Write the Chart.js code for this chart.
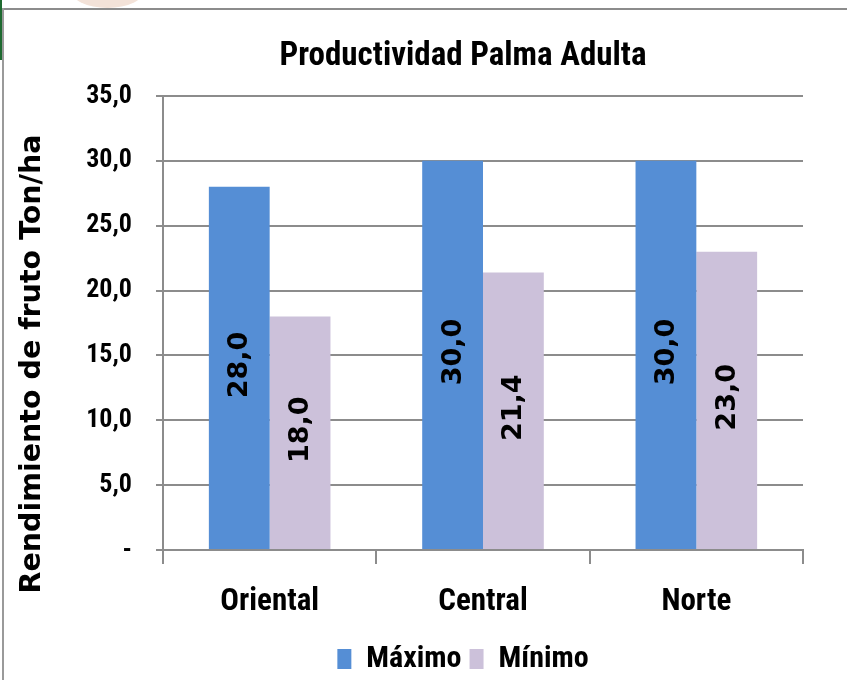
<!DOCTYPE html>
<html>
<head>
<meta charset="utf-8">
<script src="https://cdn.jsdelivr.net/npm/chart.js@4.4.1/dist/chart.umd.min.js"></script>
<style>
  html, body { margin: 0; padding: 0; background: #fff; }
  #wrap { position: relative; width: 847px; height: 680px; overflow: hidden; }
  #frameTop { position: absolute; left: 2px; top: 8px; width: 845px; height: 2px; background: #8c8c8c; }
  #frameLeft { position: absolute; left: 2px; top: 8px; width: 2px; height: 672px; background: #9a9a9a; }
  #green { position: absolute; left: 0; top: 0; width: 2px; height: 60px; background: #1e6a30; }
  #peach { position: absolute; left: 70px; top: -30px; width: 75px; height: 38px; border-radius: 50%; background: #f3e2d8; }
  canvas { position: absolute; left: 0; top: 0; }
</style>
</head>
<body>
<div id="wrap">
  <div id="peach"></div>
  <div id="green"></div>
  <div id="frameTop"></div>
  <div id="frameLeft"></div>
  <canvas id="c" width="847" height="680"></canvas>
</div>
<script>
const categories = ['Oriental', 'Central', 'Norte'];
const maximoValues = [28.0, 30.0, 30.0];
const minimoValues = [18.0, 21.4, 23.0];
const seriesNames = ['Máximo', 'Mínimo'];
const yTickValues = [0, 5, 10, 15, 20, 25, 30, 35];
const yTickLabels = ['-', '5,0', '10,0', '15,0', '20,0', '25,0', '30,0', '35,0'];
const chartTitle = 'Productividad Palma Adulta';
const yAxisTitle = 'Rendimiento de fruto Ton/ha';

const condensed = "'Liberation Sans Narrow', 'Arial Narrow', 'Roboto Condensed', sans-serif";
const wide = "'DejaVu Sans', Verdana, sans-serif";
const gridColor = '#8c8c8c';

function fmt(v) { return v.toFixed(1).replace('.', ','); }

const barLabels = {
  id: 'barLabels',
  afterDatasetsDraw(chart) {
    const ctx = chart.ctx;
    ctx.save();
    ctx.font = "bold 27px " + wide;
    ctx.fillStyle = '#000';
    ctx.textAlign = 'center';
    ctx.textBaseline = 'middle';
    chart.data.datasets.forEach((ds, di) => {
      const meta = chart.getDatasetMeta(di);
      meta.data.forEach((bar, i) => {
        const cy = (bar.y + bar.base) / 2 - 3;
        ctx.save();
        ctx.translate(bar.x, cy);
        ctx.rotate(-Math.PI / 2);
        ctx.fillText(fmt(ds.data[i]), 0, 1);
        ctx.restore();
      });
    });
    ctx.restore();
  }
};

const yTitlePlugin = {
  id: 'yTitle',
  afterDraw(chart) {
    const ctx = chart.ctx;
    const a = chart.chartArea;
    ctx.save();
    ctx.font = "bold 28.5px " + wide;
    ctx.fillStyle = '#000';
    ctx.textAlign = 'center';
    ctx.textBaseline = 'middle';
    ctx.translate(33, (a.top + a.bottom) / 2 + 41);
    ctx.rotate(-Math.PI / 2);
    ctx.fillText(yAxisTitle, 0, 0);
    ctx.restore();
  }
};

new Chart(document.getElementById('c'), {
  type: 'bar',
  data: {
    labels: categories,
    datasets: [
      { label: seriesNames[0], data: maximoValues, backgroundColor: '#558ed5', borderWidth: 0 },
      { label: seriesNames[1], data: minimoValues, backgroundColor: '#ccc1da', borderWidth: 0 }
    ]
  },
  options: {
    responsive: false,
    animation: false,
    devicePixelRatio: 1,
    layout: { padding: { left: 80, right: 1, top: 0, bottom: -4 } },
    datasets: { bar: { categoryPercentage: 0.57, barPercentage: 1.0 } },
    plugins: {
      title: {
        display: true,
        text: chartTitle,
        color: '#000',
        font: { family: condensed, size: 33, weight: 'bold', lineHeight: 1.2 },
        padding: { top: 37, bottom: 19.4 }
      },
      legend: {
        display: true,
        position: 'bottom',
        labels: {
          color: '#000',
          boxWidth: 14,
          boxHeight: 20,
          padding: 8,
          font: { family: condensed, size: 30, weight: 'bold' }
        }
      },
      tooltip: { enabled: false }
    },
    scales: {
      x: {
        offset: true,
        grid: { display: true, offset: true, drawOnChartArea: false, drawTicks: true, tickLength: 14, color: gridColor, lineWidth: 2 },
        border: { display: true, color: gridColor, width: 2 },
        ticks: { color: '#000', padding: 20, font: { family: condensed, size: 31, weight: 'bold' } },
        afterFit(s) { s.height = 86; }
      },
      y: {
        min: 0,
        max: 35,
        afterBuildTicks(s) { s.ticks = yTickValues.map(v => ({ value: v })); },
        grid: { color: gridColor, lineWidth: 2, drawTicks: true, tickLength: 7 },
        border: { display: true, color: gridColor, width: 2 },
        ticks: {
          color: '#000',
          padding: 24,
          font: { family: condensed, size: 26, weight: 'bold' },
          callback(value) { const i = yTickValues.indexOf(value); return i >= 0 ? yTickLabels[i] : ''; }
        },
        title: { display: false },
        afterFit(s) { s.width = 83; }
      },
      yRight: {
        position: 'right',
        min: 0,
        max: 35,
        grid: { display: false },
        border: { display: false },
        ticks: { display: false },
        afterFit(s) { s.width = 43; }
      }
    }
  },
  plugins: [barLabels, yTitlePlugin]
});
</script>
</body>
</html>
